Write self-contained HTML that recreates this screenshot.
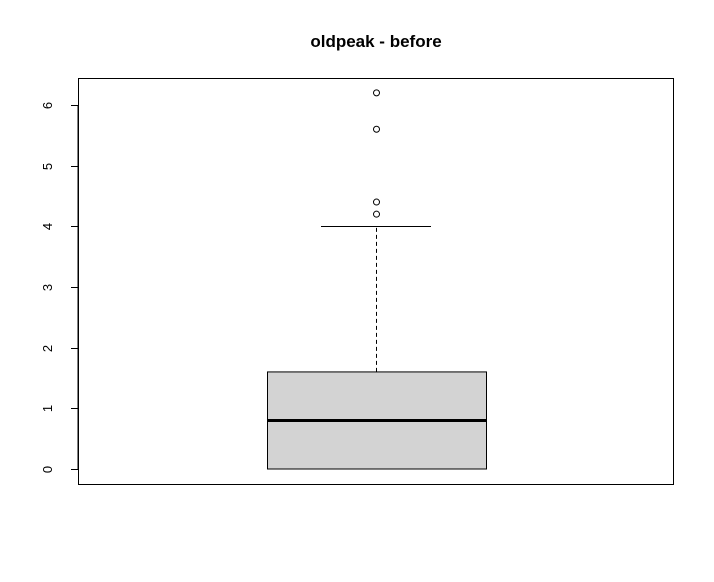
<!DOCTYPE html>
<html><head><meta charset="utf-8"><style>
body{margin:0;background:#fff;}
svg{display:block;font-family:"Liberation Sans",Arial,sans-serif;}
</style></head><body>
<svg id="chart" width="714" height="582" xmlns="http://www.w3.org/2000/svg">
<rect width="714" height="582" fill="#fff"/>
<text x="376" y="47" text-anchor="middle" font-size="17" font-weight="bold">oldpeak - before</text>
<rect x="78.5" y="78.5" width="595" height="406" fill="none" stroke="#000"/>
<g id="axis"></g>
<g id="marks"></g>
</svg>
<script>
const yTicks = [0,1,2,3,4,5,6];
const stats = [0, 0, 0.8, 1.6, 4.0]; // min whisker, q1, median, q3, max whisker
const outliers = [4.2, 4.4, 5.6, 6.2];
const y = v => 469 - v * 60.67;
const NS = "http://www.w3.org/2000/svg";
function mk(tag, attrs, parent){const e=document.createElementNS(NS,tag);for(const k in attrs)e.setAttribute(k,attrs[k]);parent.appendChild(e);return e;}
const ax = document.getElementById('axis');
const axl = mk('line',{x1:78,x2:78,y1:y(0),y2:y(6),stroke:'#000'},ax);


yTicks.forEach(t=>{
  const yy=Math.round(y(t))+0.5;
  const l=mk('line',{x1:71,x2:78,y1:yy,y2:yy,stroke:'#000'},ax);
  
  
  const tx=mk('text',{x:52,y:yy,'font-size':13,'text-anchor':'middle',transform:`rotate(-90 52 ${yy})`},ax);
  tx.textContent=t;
  
  
});
const m=document.getElementById('marks');
const cx=376.5;
const w1=mk('line',{x1:cx,x2:cx,y1:y(stats[3]),y2:y(stats[4]),stroke:'#000','stroke-dasharray':'4,3'},m);


const cap=mk('line',{x1:321,x2:431,y1:Math.round(y(stats[4]))+0.5,y2:Math.round(y(stats[4]))+0.5,stroke:'#000'},m);


const box=mk('rect',{x:267.5,y:y(stats[3]),width:219,height:y(stats[1])-y(stats[3]),fill:'#d3d3d3',stroke:'#000'},m);


const med=mk('line',{x1:267.5,x2:486.5,y1:y(stats[2]),y2:y(stats[2]),stroke:'#000','stroke-width':3},m);


outliers.forEach(o=>{
  const c=mk('circle',{cx:cx,cy:y(o),r:3,fill:'none',stroke:'#000'},m);
  
  
});
</script>
</body></html>
